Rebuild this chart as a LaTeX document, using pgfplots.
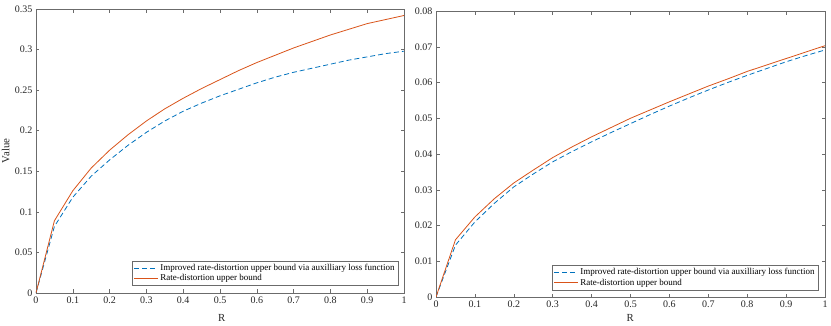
\documentclass[border=0pt]{standalone}
\usepackage{fontspec}
\setmainfont{Liberation Serif}
\usepackage{pgfplots}
\pgfplotsset{compat=1.18}
\definecolor{mblue}{rgb}{0,0.447,0.741}
\definecolor{mred}{rgb}{0.85,0.325,0.098}
\definecolor{mgray}{rgb}{0.15,0.15,0.15}
\definecolor{mline}{rgb}{0.42,0.42,0.42}
\pgfplotsset{
  mstyle/.style={
    scale only axis,
    xmin=0, xmax=1,
    xtick={0,0.1,...,1},
    scaled ticks=false,
    tick align=inside,
    major tick length=3.5pt,
    axis line style={mline, line width=0.6pt},
    tick style={mline, line width=0.5pt},
    every tick label/.append style={font=\fontsize{10}{12}\selectfont, text=mgray},
    /pgf/number format/assume math mode=true,
    yticklabel style={/pgf/number format/fixed, /pgf/number format/precision=2},
    xticklabel style={/pgf/number format/fixed, /pgf/number format/precision=1},
    label style={font=\fontsize{10.8}{12}\selectfont, text=mgray},
    legend style={font=\fontsize{9}{10.5}\selectfont, draw=mline, line width=0.5pt,
      inner sep=1.2pt, row sep=-1.5pt, cells={anchor=west}},
    legend image post style={xscale=1.4},
  },
  mdash/.style={mblue, line width=0.8pt, dash pattern=on 5pt off 3pt},
}
\begin{document}
\begin{tikzpicture}[x=1pt,y=1pt]
  \begin{axis}[mstyle,
      at={(36pt,-293pt)}, anchor=south west,
      width=368pt, height=284pt,
      ymin=0, ymax=0.35,
      ytick={0,0.05,...,0.35},
      xlabel={R}, ylabel={Value},
      xlabel style={at={(axis description cs:0.505,-0.088)}, anchor=center},
      ylabel style={at={(axis description cs:-0.082,0.5)}, anchor=center},
      legend style={at={(0.984,0.025)}, anchor=south east},
    ]
    \addplot[mdash] coordinates {
      (0,0) (0.05,0.082) (0.1,0.118) (0.15,0.144) (0.2,0.164) (0.25,0.182)
      (0.3,0.198) (0.35,0.212) (0.4,0.224) (0.45,0.234) (0.5,0.243)
      (0.55,0.251) (0.6,0.259) (0.65,0.266) (0.7,0.272) (0.75,0.277)
      (0.8,0.282) (0.85,0.287) (0.9,0.291) (0.95,0.295) (1,0.298)};
    \addplot[mred, line width=0.8pt] coordinates {
      (0,0) (0.05,0.089) (0.1,0.126) (0.15,0.154) (0.2,0.176) (0.25,0.195)
      (0.3,0.212) (0.35,0.227) (0.4,0.240) (0.45,0.252) (0.5,0.263)
      (0.55,0.274) (0.6,0.284) (0.65,0.293) (0.7,0.302) (0.75,0.310)
      (0.8,0.318) (0.85,0.325) (0.9,0.332) (0.95,0.337) (1,0.342)};
    \legend{Improved rate-distortion upper bound via auxilliary loss function,
            Rate-distortion upper bound}
  \end{axis}
  \begin{axis}[mstyle,
      at={(436pt,-297pt)}, anchor=south west,
      width=389pt, height=286pt,
      ymin=0, ymax=0.08,
      ytick={0,0.01,...,0.08},
      xlabel={R},
      xlabel style={at={(axis description cs:0.499,-0.073)}, anchor=center},
      legend style={at={(0.982,0.024)}, anchor=south east},
    ]
    \addplot[mdash] coordinates {
      (0,0) (0.05,0.0145) (0.1,0.0210) (0.15,0.0262) (0.2,0.0308) (0.25,0.0344)
      (0.3,0.0378) (0.35,0.0407) (0.4,0.0434) (0.45,0.0460) (0.5,0.0485)
      (0.55,0.0510) (0.6,0.0534) (0.65,0.0557) (0.7,0.0579) (0.75,0.0600)
      (0.8,0.0620) (0.85,0.0639) (0.9,0.0658) (0.95,0.0675) (1,0.0691)};
    \addplot[mred, line width=0.8pt] coordinates {
      (0,0) (0.05,0.0160) (0.1,0.0224) (0.15,0.0275) (0.2,0.0319) (0.25,0.0355)
      (0.3,0.0390) (0.35,0.0420) (0.4,0.0448) (0.45,0.0474) (0.5,0.0500)
      (0.55,0.0523) (0.6,0.0546) (0.65,0.0568) (0.7,0.0590) (0.75,0.0610)
      (0.8,0.0631) (0.85,0.0649) (0.9,0.0667) (0.95,0.0685) (1,0.0703)};
    \legend{Improved rate-distortion upper bound via auxilliary loss function,
            Rate-distortion upper bound}
  \end{axis}
  \pgfresetboundingbox
  \useasboundingbox (0,0) rectangle (831pt,-326pt);
\end{tikzpicture}
\end{document}
